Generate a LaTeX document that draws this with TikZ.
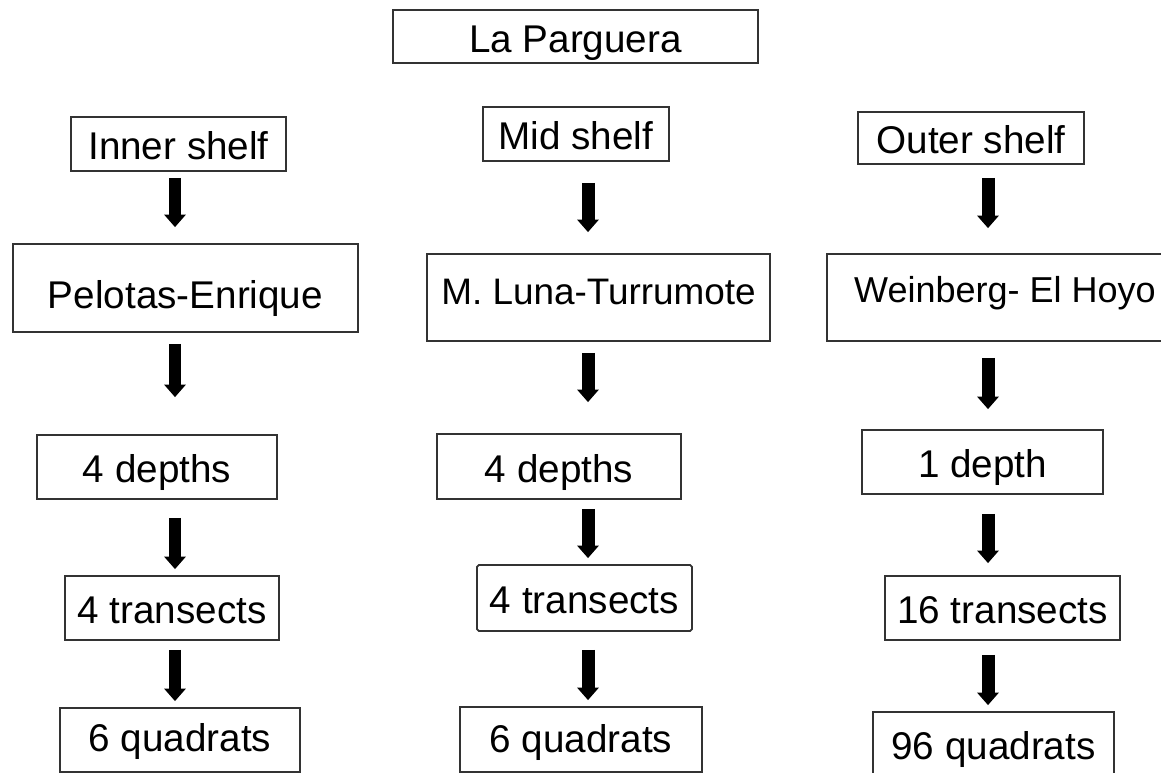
\documentclass[tikz,border=0pt]{standalone}
\usepackage{fontspec}
\setmainfont{Liberation Sans}
\usepackage{tikz}
\usetikzlibrary{arrows.meta}

\begin{document}
\begin{tikzpicture}[
    x=0.02cm, y=-0.02cm,
    block/.style={rectangle, draw=black!80, line width=1pt, inner sep=0pt, text height=0.74cm, text depth=0.10cm, font=\fontsize{22}{26}\selectfont},
    arrow/.style={line width=0.26cm, -{Triangle[width=0.42cm, length=0.25cm]}}
]
\useasboundingbox (0,0) rectangle (1161,773);

% Site (top)
\node[block, minimum width=7.30cm, minimum height=1.06cm] (parguera) at (575.5,36.5) {La Parguera};

% Shelf zones (first row)
\node[block, minimum width=4.30cm, minimum height=1.08cm] (inner) at (178.5,144) {Inner shelf};
\node[block, minimum width=3.72cm, minimum height=1.08cm] (mid) at (576,134) {Mid shelf};
\node[block, minimum width=4.52cm, minimum height=1.04cm] (outer) at (971,138) {Outer shelf};

% Reefs (second row)
\node[block, minimum width=6.90cm, minimum height=1.76cm, text height=0.94cm] (pelotas) at (185.5,288) {Pelotas-Enrique};
\node[block, minimum width=6.86cm, minimum height=1.74cm, text height=0.40cm, font=\fontsize{21}{25}\selectfont] (luna) at (598.5,297.5) {M. Luna-Turrumote};
\node[block, minimum width=7.12cm, minimum height=1.74cm, text height=0.32cm, font=\fontsize{20.5}{24}\selectfont] (weinberg) at (1005,297.5) {Weinberg- El Hoyo};

% Depths (third row)
\node[block, minimum width=4.80cm, minimum height=1.28cm] (depthA) at (157,467) {4 depths};
\node[block, minimum width=4.88cm, minimum height=1.30cm] (depthB) at (559,466.5) {4 depths};
\node[block, minimum width=4.82cm, minimum height=1.28cm] (depthC) at (982.5,462) {1 depth};

% Transects (fourth row)
\node[block, minimum width=4.28cm, minimum height=1.28cm] (transA) at (172,608) {4 transects};
\node[block, minimum width=4.30cm, minimum height=1.32cm, rounded corners=1pt] (transB) at (584.5,598) {4 transects};
\node[block, minimum width=4.70cm, minimum height=1.28cm] (transC) at (1002.5,608) {16 transects};

% Quadrats (bottom)
\node[block, minimum width=4.80cm, minimum height=1.28cm, text height=0.58cm] (quadA) at (180,740) {6 quadrats};
\node[block, minimum width=4.84cm, minimum height=1.30cm, text height=0.64cm] (quadB) at (581,739.5) {6 quadrats};
\node[block, minimum width=4.82cm, minimum height=1.28cm] (quadC) at (993.5,744) {96 quadrats};

% Arrow columns
\coordinate (colA) at (175,0);
\coordinate (colB) at (588,0);
\coordinate (colC) at (988,0);

% Arrows
\draw[arrow, shorten <=0.12cm, shorten >=0.32cm] (inner.south -| colA) -- (pelotas.north -| colA);
\draw[arrow, shorten <=0.22cm, shorten >=0.74cm] (pelotas.south -| colA) -- (depthA.north -| colA);
\draw[arrow, shorten <=0.36cm, shorten >=0.12cm] (depthA.south -| colA) -- (transA.north -| colA);
\draw[arrow, shorten <=0.18cm, shorten >=0.12cm] (transA.south -| colA) -- (quadA.north -| colA);

\draw[arrow, shorten <=0.42cm, shorten >=0.42cm] (mid.south -| colB) -- (luna.north -| colB);
\draw[arrow, shorten <=0.22cm, shorten >=0.62cm] (luna.south -| colB) -- (depthB.north -| colB);
\draw[arrow, shorten <=0.18cm, shorten >=0.12cm] (depthB.south -| colB) -- (transB.north -| colB);
\draw[arrow, shorten <=0.36cm, shorten >=0.12cm] (transB.south -| colB) -- (quadB.north -| colB);

\draw[arrow, shorten <=0.26cm, shorten >=0.50cm] (outer.south -| colC) -- (weinberg.north -| colC);
\draw[arrow, shorten <=0.32cm, shorten >=0.40cm] (weinberg.south -| colC) -- (depthC.north -| colC);
\draw[arrow, shorten <=0.38cm, shorten >=0.24cm] (depthC.south -| colC) -- (transC.north -| colC);
\draw[arrow, shorten <=0.28cm, shorten >=0.12cm] (transC.south -| colC) -- (quadC.north -| colC);

\end{tikzpicture}
\end{document}
